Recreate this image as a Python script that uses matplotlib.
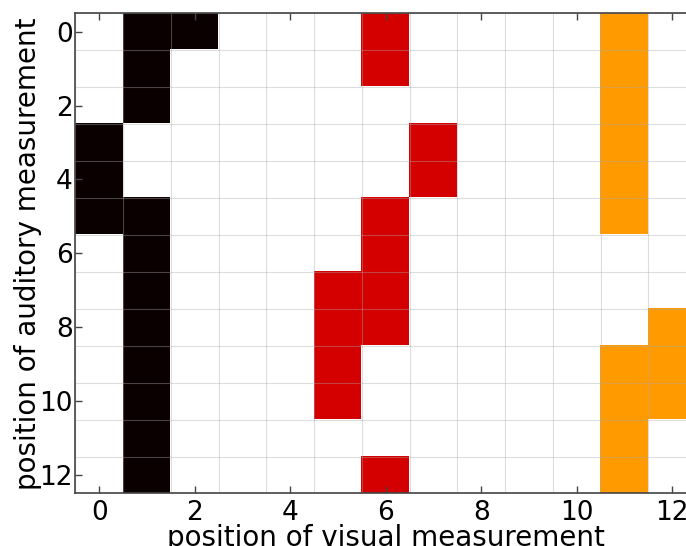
import numpy as np
import matplotlib
matplotlib.use("Agg")
import matplotlib.pyplot as plt
from matplotlib.colors import ListedColormap, BoundaryNorm

# 0 = black, 1 = red, 2 = orange, 3 = empty (white)
cells = [
    [3, 0, 0, 3, 3, 3, 1, 3, 3, 3, 3, 2, 3],
    [3, 0, 3, 3, 3, 3, 1, 3, 3, 3, 3, 2, 3],
    [3, 0, 3, 3, 3, 3, 3, 3, 3, 3, 3, 2, 3],
    [0, 3, 3, 3, 3, 3, 3, 1, 3, 3, 3, 2, 3],
    [0, 3, 3, 3, 3, 3, 3, 1, 3, 3, 3, 2, 3],
    [0, 0, 3, 3, 3, 3, 1, 3, 3, 3, 3, 2, 3],
    [3, 0, 3, 3, 3, 3, 1, 3, 3, 3, 3, 3, 3],
    [3, 0, 3, 3, 3, 1, 1, 3, 3, 3, 3, 3, 3],
    [3, 0, 3, 3, 3, 1, 1, 3, 3, 3, 3, 3, 2],
    [3, 0, 3, 3, 3, 1, 3, 3, 3, 3, 3, 2, 2],
    [3, 0, 3, 3, 3, 1, 3, 3, 3, 3, 3, 2, 2],
    [3, 0, 3, 3, 3, 3, 3, 3, 3, 3, 3, 2, 3],
    [3, 0, 3, 3, 3, 3, 1, 3, 3, 3, 3, 2, 3],
]
level_colors = ['#0a0000', '#d40000', '#ff9a00', '#ffffff']
tick_pos = [0, 2, 4, 6, 8, 10, 12]

mat = np.array(cells)
n_rows, n_cols = mat.shape

cmap = ListedColormap(level_colors)
norm = BoundaryNorm([-0.5, 0.5, 1.5, 2.5, 3.5], cmap.N)

fig = plt.figure(figsize=(6.86, 5.46), dpi=100)
ax = fig.add_axes([0.1099, 0.0962, 0.9047, 0.8796])
ax.imshow(mat, cmap=cmap, norm=norm, interpolation='nearest', aspect='auto')

ax.set_xticks(tick_pos)
ax.set_yticks(tick_pos)
ax.set_xticks(np.arange(-0.5, n_cols, 1), minor=True)
ax.set_yticks(np.arange(-0.5, n_rows, 1), minor=True)
ax.grid(which='minor', color='#aaaaaa', alpha=0.4, linewidth=0.8)
ax.tick_params(which='minor', length=0)
ax.tick_params(which='major', direction='in', length=5, width=1, color='#444444',
               top=True, right=True, labelsize=19)
ax.tick_params(axis='x', pad=5)
ax.tick_params(axis='y', pad=2)
for s in ax.spines.values():
    s.set_color('#444444')
    s.set_linewidth(1.2)

ax.set_xlabel('position of visual measurement', fontsize=20, labelpad=-2)
ax.set_ylabel('position of auditory measurement', fontsize=20, labelpad=-2)

fig.savefig('out.png', dpi=100)
